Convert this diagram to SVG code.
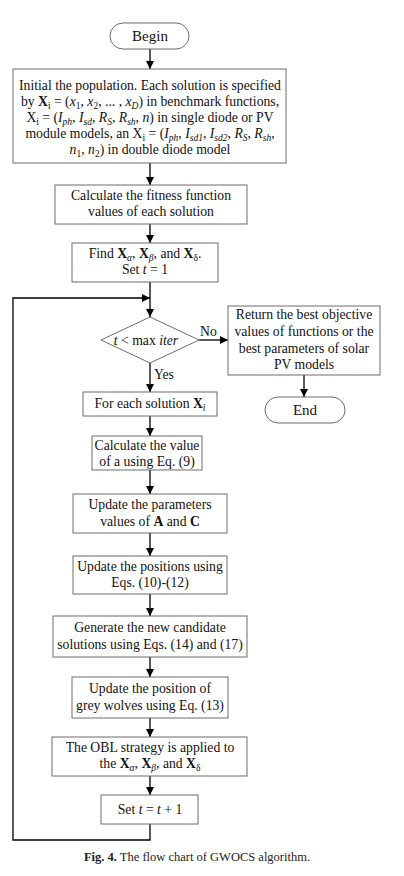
<svg xmlns="http://www.w3.org/2000/svg" width="404" height="876" viewBox="0 0 404 876">
<defs>
<marker id="ah" markerUnits="userSpaceOnUse" markerWidth="8" markerHeight="8" refX="8" refY="4" orient="auto">
<path d="M0,0 L8,4 L0,8 z" fill="#000"/>
</marker>
<style>
.box{fill:#fff;stroke:#6d6d6d;stroke-width:1}
.ln{fill:none;stroke:#000;stroke-width:1.3}
.ar{fill:none;stroke:#000;stroke-width:1.3;marker-end:url(#ah)}
text{font-family:"Liberation Serif","Times New Roman",serif;font-size:13.7px;fill:#111}
.c{text-anchor:middle}
.i{font-style:italic}
.b{font-weight:bold}
.s{font-size:9.5px}
.cap{font-size:12.5px;fill:#222}
</style>
</defs>
<rect width="404" height="876" fill="#fff"/>

<g id="connectors">
<line class="ar" x1="150" y1="49" x2="150" y2="69"/>
<line class="ar" x1="150" y1="163" x2="150" y2="185"/>
<line class="ar" x1="150" y1="224" x2="150" y2="243"/>
<line class="ar" x1="150" y1="282" x2="150" y2="317"/>
<polyline class="ar" points="150,824 150,840 13,840 13,298 150,298"/>
<line class="ar" x1="199" y1="340" x2="228" y2="340"/>
<line class="ar" x1="150" y1="363" x2="150" y2="392"/>
<line class="ar" x1="304" y1="375" x2="304" y2="397"/>
<line class="ar" x1="150" y1="416" x2="150" y2="436"/>
<line class="ar" x1="150" y1="470" x2="150" y2="494"/>
<line class="ar" x1="150" y1="533" x2="150" y2="556"/>
<line class="ar" x1="150" y1="594" x2="150" y2="616"/>
<line class="ar" x1="150" y1="657" x2="150" y2="677"/>
<line class="ar" x1="150" y1="718" x2="150" y2="737"/>
<line class="ar" x1="150" y1="776" x2="150" y2="795"/>
<text x="200" y="336">No</text>
<text x="154" y="379">Yes</text>
</g>

<g id="begin">
<rect class="box" x="110" y="23" width="79" height="26" rx="13"/>
<text class="c" x="150" y="41" style="font-size:15px">Begin</text>
</g>

<g id="init">
<rect class="box" x="13" y="69" width="273" height="94"/>
<text class="c" x="150" y="90">Initial the population. Each solution is specified</text>
<text class="c" x="150" y="106">by <tspan class="b">X</tspan><tspan class="s" dy="3">i</tspan><tspan dy="-3"> = (</tspan><tspan class="i">x</tspan><tspan class="s" dy="3">1</tspan><tspan dy="-3">, </tspan><tspan class="i">x</tspan><tspan class="s" dy="3">2</tspan><tspan dy="-3">, ... , </tspan><tspan class="i">x</tspan><tspan class="s i" dy="3">D</tspan><tspan dy="-3">) in benchmark functions,</tspan></text>
<text class="c" x="150" y="122">X<tspan class="s" dy="3">i</tspan><tspan dy="-3"> = (</tspan><tspan class="i">I</tspan><tspan class="s i" dy="3">ph</tspan><tspan dy="-3">, </tspan><tspan class="i">I</tspan><tspan class="s i" dy="3">sd</tspan><tspan dy="-3">, </tspan><tspan class="i">R</tspan><tspan class="s i" dy="3">S</tspan><tspan dy="-3">, </tspan><tspan class="i">R</tspan><tspan class="s i" dy="3">sh</tspan><tspan dy="-3">, </tspan><tspan class="i">n</tspan><tspan>) in single diode or PV</tspan></text>
<text class="c" x="150" y="138">module models, an  X<tspan class="s" dy="3">i</tspan><tspan dy="-3"> = (</tspan><tspan class="i">I</tspan><tspan class="s i" dy="3">ph</tspan><tspan dy="-3">, </tspan><tspan class="i">I</tspan><tspan class="s i" dy="3">sd1</tspan><tspan dy="-3">, </tspan><tspan class="i">I</tspan><tspan class="s i" dy="3">sd2</tspan><tspan dy="-3">, </tspan><tspan class="i">R</tspan><tspan class="s i" dy="3">S</tspan><tspan dy="-3">, </tspan><tspan class="i">R</tspan><tspan class="s i" dy="3">sh</tspan><tspan dy="-3">,</tspan></text>
<text class="c" x="150" y="154"><tspan class="i">n</tspan><tspan class="s" dy="3">1</tspan><tspan dy="-3">, </tspan><tspan class="i">n</tspan><tspan class="s" dy="3">2</tspan><tspan dy="-3">) in double diode model</tspan></text>
</g>

<g id="fitness">
<rect class="box" x="55" y="185" width="192" height="39"/>
<text class="c" x="151" y="200">Calculate the fitness function</text>
<text class="c" x="151" y="216">values of each solution</text>
</g>

<g id="find">
<rect class="box" x="72" y="243" width="146" height="39"/>
<text class="c" x="145" y="258">Find <tspan class="b">X</tspan><tspan class="s i" dy="3">α</tspan><tspan dy="-3">, </tspan><tspan class="b">X</tspan><tspan class="s i" dy="3">β</tspan><tspan dy="-3">, and </tspan><tspan class="b">X</tspan><tspan class="s" dy="3">δ</tspan><tspan dy="-3">.</tspan></text>
<text class="c" x="145" y="274">Set <tspan class="i">t</tspan> = 1</text>
</g>

<g id="decision">
<polygon class="box" points="150,317 199,340 150,363 101,340"/>
<text class="c" x="146" y="345"><tspan class="i">t</tspan>  &lt; max <tspan class="i">iter</tspan></text>
</g>

<g id="return">
<rect class="box" x="228" y="306" width="152" height="69"/>
<text class="c" x="304" y="319">Return the best objective</text>
<text class="c" x="304" y="336">values of functions or the</text>
<text class="c" x="304" y="353">best parameters of solar</text>
<text class="c" x="304" y="369">PV models</text>
</g>

<g id="end">
<rect class="box" x="265" y="397" width="80" height="26" rx="13"/>
<text class="c" x="305" y="415" style="font-size:15px">End</text>
</g>

<g id="foreach">
<rect class="box" x="83" y="392" width="134" height="24"/>
<text class="c" x="150" y="408">For each solution <tspan class="b">X</tspan><tspan class="s i" dy="3">i</tspan></text>
</g>

<g id="calca">
<rect class="box" x="92" y="436" width="110" height="34"/>
<text class="c" x="147" y="450">Calculate the value</text>
<text class="c" x="147" y="466">of a using Eq. (9)</text>
</g>

<g id="updac">
<rect class="box" x="73" y="494" width="154" height="39"/>
<text class="c" x="150" y="509">Update the parameters</text>
<text class="c" x="150" y="526">values of <tspan class="b">A</tspan> and <tspan class="b">C</tspan></text>
</g>

<g id="updpos">
<rect class="box" x="73" y="556" width="154" height="38"/>
<text class="c" x="150" y="571">Update the positions using</text>
<text class="c" x="150" y="587">Eqs. (10)-(12)</text>
</g>

<g id="generate">
<rect class="box" x="53" y="616" width="194" height="41"/>
<text class="c" x="150" y="632">Generate the new candidate</text>
<text class="c" x="150" y="649">solutions using Eqs. (14) and (17)</text>
</g>

<g id="updgrey">
<rect class="box" x="72" y="677" width="156" height="41"/>
<text class="c" x="150" y="693">Update the position of</text>
<text class="c" x="150" y="710">grey wolves using Eq. (13)</text>
</g>

<g id="obl">
<rect class="box" x="52" y="737" width="195" height="39"/>
<text class="c" x="150" y="752">The OBL strategy is applied to</text>
<text class="c" x="150" y="768">the  <tspan class="b">X</tspan><tspan class="s i" dy="3">α</tspan><tspan dy="-3">, </tspan><tspan class="b">X</tspan><tspan class="s i" dy="3">β</tspan><tspan dy="-3">, and </tspan><tspan class="b">X</tspan><tspan class="s" dy="3">δ</tspan></text>
</g>

<g id="sett">
<rect class="box" x="101" y="795" width="97" height="29"/>
<text class="c" x="150" y="814">Set <tspan class="i">t</tspan> = <tspan class="i">t</tspan> + 1</text>
</g>

<g id="caption">
<text class="cap c" x="197" y="861"><tspan class="b">Fig. 4.</tspan> The flow chart of GWOCS algorithm.</text>
</g>
</svg>
